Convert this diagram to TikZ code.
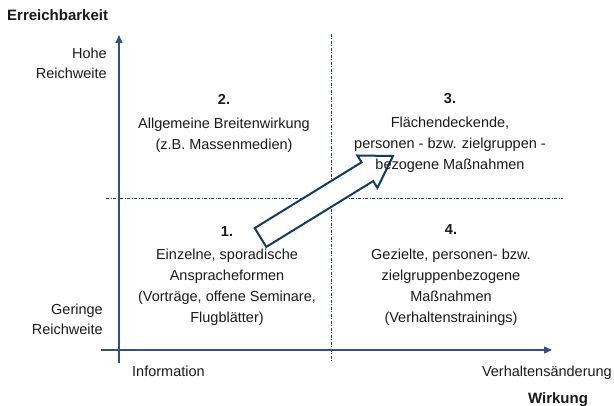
\documentclass[tikz,border=0pt]{standalone}
\usepackage{fontspec}
\setmainfont{Liberation Sans}
\usetikzlibrary{arrows.meta}
\definecolor{axisblue}{HTML}{2F5282}
\definecolor{navy}{HTML}{123B64}
\definecolor{gridnavy}{HTML}{1F3D66}
\definecolor{txt}{HTML}{1A1A1A}
\begin{document}
\begin{tikzpicture}[x=1pt,y=-1pt,
  axisline/.style={draw=axisblue, line width=1.3pt},
  axtip/.style={-{Triangle[length=8pt,width=7pt]}},
  divider/.style={draw=gridnavy, line width=0.9pt, dash pattern=on 3pt off 1.5pt on 1pt off 1.5pt},
  quadtext/.style={align=center, anchor=base, inner sep=0pt, font=\fontsize{14.5}{21}\selectfont, text=txt},
  axlabel/.style={inner sep=0pt, font=\fontsize{14.5}{20.5}\selectfont, text=txt},
  axtitle/.style={inner sep=0pt, font=\fontsize{15}{18}\selectfont\bfseries, text=txt},
  bigarrow/.style={draw=navy, line width=2pt, fill=white, line join=miter}
]
\useasboundingbox (0,0) rectangle (614,406);

% quadrant dividers
\coordinate (vtop) at (331,34);
\coordinate (vbot) at (331,363);
\coordinate (hleft) at (106,198.5);
\coordinate (hright) at (563,198.5);
\draw[divider] (vtop) -- (vbot);
\draw[divider] (hleft) -- (hright);

% axes
\coordinate (ybot) at (119,363);
\coordinate (ytop) at (119,35);
\coordinate (xleft) at (101,350);
\coordinate (xright) at (552,350);
\draw[axisline, axtip] (ybot) -- (ytop);
\draw[axisline, axtip] (xleft) -- (xright);

% block arrow from quadrant 1 to quadrant 3
\coordinate (tailA) at (254.7,228.1);
\coordinate (tailB) at (266.3,246.9);
\coordinate (notchG) at (373.2,181.1);
\coordinate (barbF) at (377.4,187.9);
\coordinate (tipE) at (393,156);
\coordinate (barbD) at (357.4,155.5);
\coordinate (notchC) at (361.6,162.3);
\draw[bigarrow] (tailA) -- (tailB) -- (notchG) -- (barbF) -- (tipE) -- (barbD) -- (notchC) -- cycle;

% axis titles and labels (base anchor = baseline of the last line)
\node[axtitle, anchor=base west] (ytitle) at (7,21) {Erreichbarkeit};
\node[axtitle, anchor=base] (xtitle) at (558,403) {Wirkung};
\node[axlabel, align=right, anchor=base east] (yhigh) at (107,79) {Hohe\\Reichweite};
\node[axlabel, align=right, anchor=base east] (ylow) at (103,335) {Geringe\\Reichweite};
\node[axlabel, anchor=base west] (xlow) at (132,377) {Information};
\node[axlabel, anchor=base east] (xhigh) at (612,377) {Verhaltensänderung};

% quadrant texts
\node[quadtext] (q2) at (224,149.5) {\textbf{2.}\\[3pt]Allgemeine Breitenwirkung\\(z.B. Massenmedien)};
\node[quadtext] (q3) at (450,170) {\textbf{3.}\\[3pt]Flächendeckende,\\personen - bzw. zielgruppen -\\bezogene Maßnahmen};
\node[quadtext] (q1) at (227,323) {\textbf{1.}\\[2pt]Einzelne, sporadische\\Anspracheformen\\(Vorträge, offene Seminare,\\Flugblätter)};
\node[quadtext] (q4) at (451,323) {\textbf{4.}\\[4pt]Gezielte, personen- bzw.\\zielgruppenbezogene\\Maßnahmen\\(Verhaltenstrainings)};
\end{tikzpicture}
\end{document}
